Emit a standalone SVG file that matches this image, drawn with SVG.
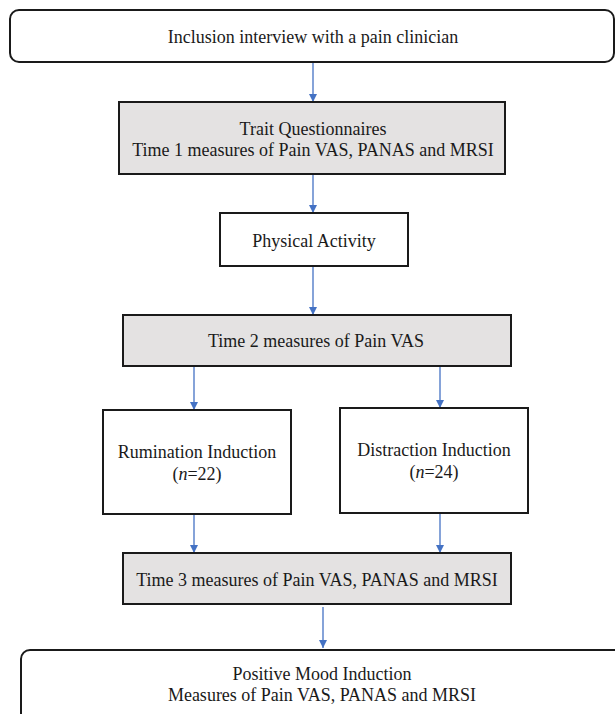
<svg xmlns="http://www.w3.org/2000/svg" width="615" height="714" viewBox="0 0 615 714">
<style>
.box{fill:#ffffff;stroke:#1a1a1a;stroke-width:2}
.grey{fill:#e4e2e2;stroke:#1a1a1a;stroke-width:2}
.t{font-size:18px;fill:#1a1a1a;text-anchor:middle}
.c{stroke:#4472c4;stroke-width:1.3;fill:none;marker-end:url(#ah)}
</style>
<defs>
<marker id="ah" viewBox="0 0 10 10" refX="10" refY="5" markerWidth="8" markerHeight="8" markerUnits="userSpaceOnUse" orient="auto">
<path d="M0,0 L10,5 L0,10 z" fill="#4472c4"/>
</marker>
</defs>
<rect width="615" height="714" fill="#ffffff"/>
<g id="connectors">
<line class="c" x1="313" y1="62" x2="313" y2="102"/>
<line class="c" x1="313" y1="174" x2="313" y2="213"/>
<line class="c" x1="313" y1="266" x2="313" y2="315"/>
<line class="c" x1="194" y1="366" x2="194" y2="410"/>
<line class="c" x1="440" y1="366" x2="440" y2="408"/>
<line class="c" x1="194" y1="514" x2="194" y2="553"/>
<line class="c" x1="440" y1="513" x2="440" y2="553"/>
<line class="c" x1="323" y1="607" x2="323" y2="648"/>
</g>
<g font-family="Liberation Serif, serif">
<g id="inclusion">
<rect class="box" x="10" y="10" width="604" height="52" rx="9"/>
<text class="t" x="313" y="43">Inclusion interview with a pain clinician</text>
</g>
<g id="trait">
<rect class="grey" x="119" y="102" width="386" height="72"/>
<text class="t" x="313" y="135">Trait Questionnaires</text>
<text class="t" x="313" y="156">Time 1 measures of Pain VAS, PANAS and MRSI</text>
</g>
<g id="physical">
<rect class="box" x="220" y="213" width="188" height="53"/>
<text class="t" x="314" y="247">Physical Activity</text>
</g>
<g id="time2">
<rect class="grey" x="123" y="315" width="388" height="51"/>
<text class="t" x="316" y="347">Time 2 measures of Pain VAS</text>
</g>
<g id="rumination">
<rect class="box" x="103" y="410" width="188" height="104"/>
<text class="t" x="197" y="458">Rumination Induction</text>
<text class="t" x="197" y="480">(<tspan font-style="italic">n</tspan>=22)</text>
</g>
<g id="distraction">
<rect class="box" x="340" y="408" width="188" height="105"/>
<text class="t" x="434" y="456">Distraction Induction</text>
<text class="t" x="434" y="478">(<tspan font-style="italic">n</tspan>=24)</text>
</g>
<g id="time3">
<rect class="grey" x="123" y="553" width="388" height="51"/>
<text class="t" x="317" y="586">Time 3 measures of Pain VAS, PANAS and MRSI</text>
</g>
<g id="positive">
<rect class="box" x="21" y="650" width="604" height="80" rx="9"/>
<text class="t" x="322" y="680">Positive Mood Induction</text>
<text class="t" x="322" y="701">Measures of Pain VAS, PANAS and MRSI</text>
</g>
</g>
</svg>
